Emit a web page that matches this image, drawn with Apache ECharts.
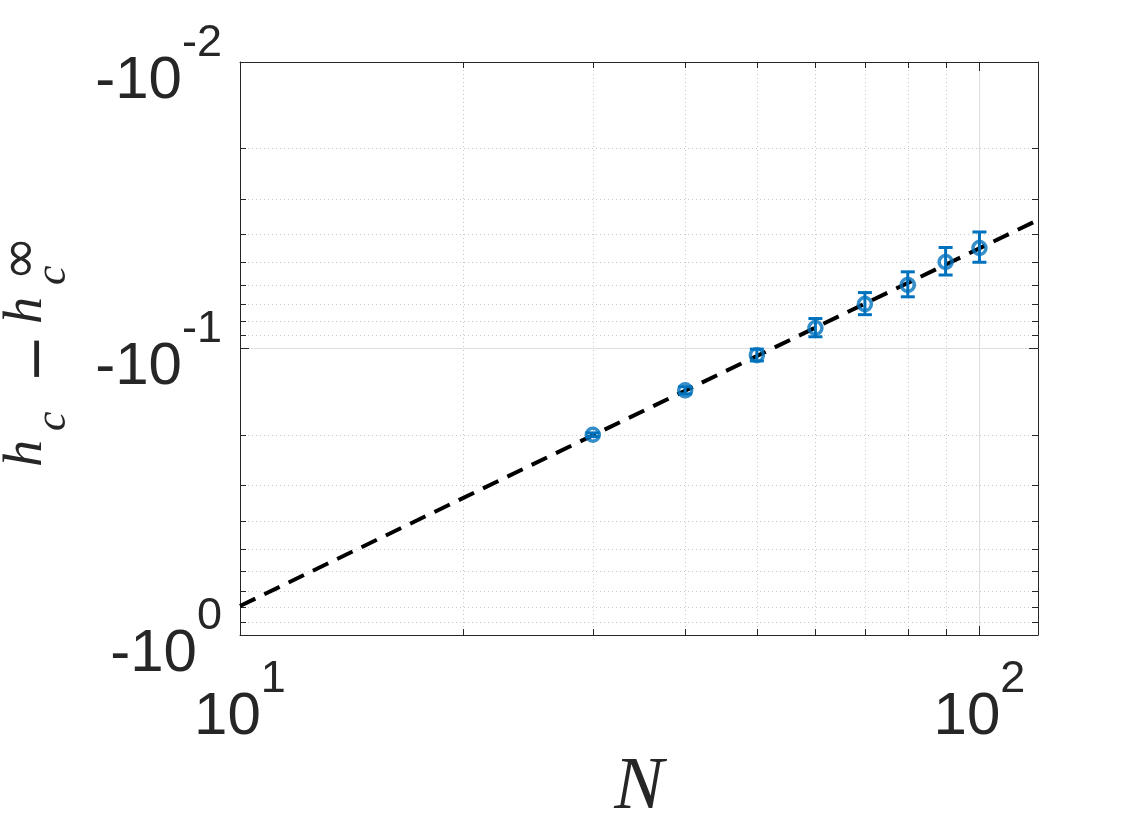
<!DOCTYPE html>
<html>
<head>
<meta charset="utf-8">
<script src="https://cdn.jsdelivr.net/npm/echarts@6/dist/echarts.min.js"></script>
<style>
html, body { margin: 0; padding: 0; background: #fff; }
#chart { width: 1146px; height: 834px; }
</style>
</head>
<body>
<div id="chart"></div>
<script>
// system size N and |h_c - h_c^inf| (plotted as negative on the axis labels)
var sizes = [30, 40, 50, 60, 70, 80, 90, 100];
var gapMag = [0.200, 0.140, 0.1055, 0.0848, 0.0700, 0.0600, 0.0499, 0.0446];
var gapErr = [0.003, 0.004, 0.005, 0.0062, 0.0062, 0.0060, 0.0055, 0.0054];
// power-law fit, endpoints of the dashed line
var fitN = [10, 120];
var fitMag = [0.792, 0.0356];
// minor ticks of the log axes
var xMinor = [20, 30, 40, 50, 60, 70, 80, 90];
var yMinor = [0.02, 0.03, 0.04, 0.05, 0.06, 0.07, 0.08, 0.09, 0.2, 0.3, 0.4, 0.5, 0.6, 0.7, 0.8, 0.9];

var axisColor = '#262626';
var blue = '#0072BD';

var pts = sizes.map(function (n, i) { return [n, gapMag[i]]; });
var errData = sizes.map(function (n, i) { return [n, gapMag[i], gapErr[i]]; });
var fitData = fitN.map(function (n, i) { return [n, fitMag[i]]; });
var minorData = xMinor.map(function (v) { return [v, 0.1, 0]; })
  .concat(yMinor.map(function (v) { return [20, v, 1]; }));

function isPow(v) {
  var e = Math.log10(v);
  return Math.abs(e - Math.round(e)) < 1e-6;
}

// main text sits at the bottom of the line, exponent at the top
var supRich = {
  b: { fontSize: 60, lineHeight: 90, verticalAlign: 'bottom', fontFamily: 'Liberation Sans', color: axisColor },
  s: { fontSize: 45, lineHeight: 90, verticalAlign: 'top', fontFamily: 'Liberation Sans', color: axisColor }
};

var serif = 'Liberation Serif';
function glyph(txt, x, y, size, family, italic) {
  return {
    type: 'text', x: x, y: y,
    style: {
      text: txt, fontFamily: family, fontStyle: italic ? 'italic' : 'normal',
      fontSize: size, fill: axisColor, verticalAlign: 'middle', align: 'left'
    }
  };
}

var dom = document.getElementById('chart');
var myChart = echarts.init(dom);

var option = {
  animation: false,
  backgroundColor: '#fff',
  grid: { left: 240, right: 108, top: 62, bottom: 199, outerBoundsMode: 'none' },
  xAxis: [{
    type: 'log', min: 10, max: 120, interval: 1,
    name: 'N', nameLocation: 'middle', nameGap: 100,
    nameTextStyle: { fontFamily: serif, fontStyle: 'italic', fontSize: 74, color: axisColor },
    axisLine: { show: true, lineStyle: { color: axisColor, width: 1 } },
    axisTick: { show: true, inside: true, length: 9, lineStyle: { color: axisColor } },
    axisLabel: {
      margin: 22, rich: supRich,
      formatter: function (v) {
        if (!isPow(v)) return '';
        return '{b|10}{s|' + Math.round(Math.log10(v)) + '}';
      }
    },
    splitLine: { show: true, lineStyle: { color: '#dedede', width: 1 } }
  }, {
    type: 'log', min: 10, max: 120, interval: 1, position: 'top',
    axisLine: { show: true, lineStyle: { color: axisColor, width: 1 } },
    axisTick: { show: true, inside: true, length: 9, lineStyle: { color: axisColor } },
    axisLabel: { show: false },
    splitLine: { show: false }
  }],
  yAxis: [{
    type: 'log', min: 0.01, max: 1, interval: 1, inverse: true,
    axisLine: { show: true, lineStyle: { color: axisColor, width: 1 } },
    axisTick: { show: true, inside: true, length: 9, lineStyle: { color: axisColor } },
    axisLabel: {
      margin: 18, padding: [8, 0, 0, 0], rich: supRich,
      formatter: function (v) {
        if (!isPow(v)) return '';
        return '{b|-10}{s|' + Math.round(Math.log10(v)) + '}';
      }
    },
    splitLine: { show: true, lineStyle: { color: '#dedede', width: 1 } }
  }, {
    type: 'log', min: 0.01, max: 1, interval: 1, inverse: true, position: 'right',
    axisLine: { show: true, lineStyle: { color: axisColor, width: 1 } },
    axisTick: { show: true, inside: true, length: 9, lineStyle: { color: axisColor } },
    axisLabel: { show: false },
    splitLine: { show: false }
  }],
  // y-axis title h_c - h_c^inf, read bottom to top
  graphic: [{
    type: 'group', x: 45, y: 467, rotation: Math.PI / 2,
    children: [
      glyph('h', 0, -18, 54, serif, true),
      glyph('c', 36, 8, 44, serif, true),
      glyph('\u2212', 84, -5, 58, 'DejaVu Sans', false),
      glyph('h', 143, -18, 54, serif, true),
      glyph('c', 182, 8, 44, serif, true),
      glyph('\u221E', 186, -22, 54, 'DejaVu Sans', false)
    ]
  }],
  series: [{
    // minor grid and minor ticks on all four sides
    type: 'custom', silent: true, z: 1,
    data: minorData,
    encode: { x: 0, y: 1 },
    renderItem: function (params, api) {
      var cs = params.coordSys;
      var kind = api.value(2);
      var dot = { stroke: '#c8c8c8', lineWidth: 1, lineDash: [1, 3] };
      var tick = { stroke: axisColor, lineWidth: 1 };
      var p, children;
      if (kind === 0) {
        p = api.coord([api.value(0), 0.1]);
        var x = Math.round(p[0]) + 0.5;
        children = [
          { type: 'line', shape: { x1: x, y1: cs.y, x2: x, y2: cs.y + cs.height }, style: dot },
          { type: 'line', shape: { x1: x, y1: cs.y + cs.height, x2: x, y2: cs.y + cs.height - 6 }, style: tick },
          { type: 'line', shape: { x1: x, y1: cs.y, x2: x, y2: cs.y + 6 }, style: tick }
        ];
      } else {
        p = api.coord([20, api.value(1)]);
        var y = Math.round(p[1]) + 0.5;
        children = [
          { type: 'line', shape: { x1: cs.x, y1: y, x2: cs.x + cs.width, y2: y }, style: dot },
          { type: 'line', shape: { x1: cs.x, y1: y, x2: cs.x + 6, y2: y }, style: tick },
          { type: 'line', shape: { x1: cs.x + cs.width, y1: y, x2: cs.x + cs.width - 6, y2: y }, style: tick }
        ];
      }
      return { type: 'group', children: children };
    }
  }, {
    name: 'fit', type: 'line', z: 3,
    data: fitData, showSymbol: false, silent: true,
    lineStyle: { color: '#000', width: 4, type: [17, 10] }
  }, {
    // error bars
    type: 'custom', z: 4, silent: true,
    data: errData,
    encode: { x: 0, y: 1 },
    renderItem: function (params, api) {
      var n = api.value(0), m = api.value(1), e = api.value(2);
      var top = api.coord([n, m - e]);
      var bot = api.coord([n, m + e]);
      var w = 7;
      var st = { stroke: blue, lineWidth: 3 };
      return {
        type: 'group',
        children: [
          { type: 'line', shape: { x1: top[0], y1: top[1], x2: bot[0], y2: bot[1] }, style: st },
          { type: 'line', shape: { x1: top[0] - w, y1: top[1], x2: top[0] + w, y2: top[1] }, style: st },
          { type: 'line', shape: { x1: bot[0] - w, y1: bot[1], x2: bot[0] + w, y2: bot[1] }, style: st }
        ]
      };
    }
  }, {
    name: 'data', type: 'scatter', z: 5,
    data: pts, symbol: 'circle', symbolSize: 13,
    itemStyle: { color: 'rgba(0,0,0,0)', borderColor: blue, borderWidth: 3.5 }
  }]
};

if (option && typeof option === 'object') {
  myChart.setOption(option, true);
}
</script>
</body>
</html>
